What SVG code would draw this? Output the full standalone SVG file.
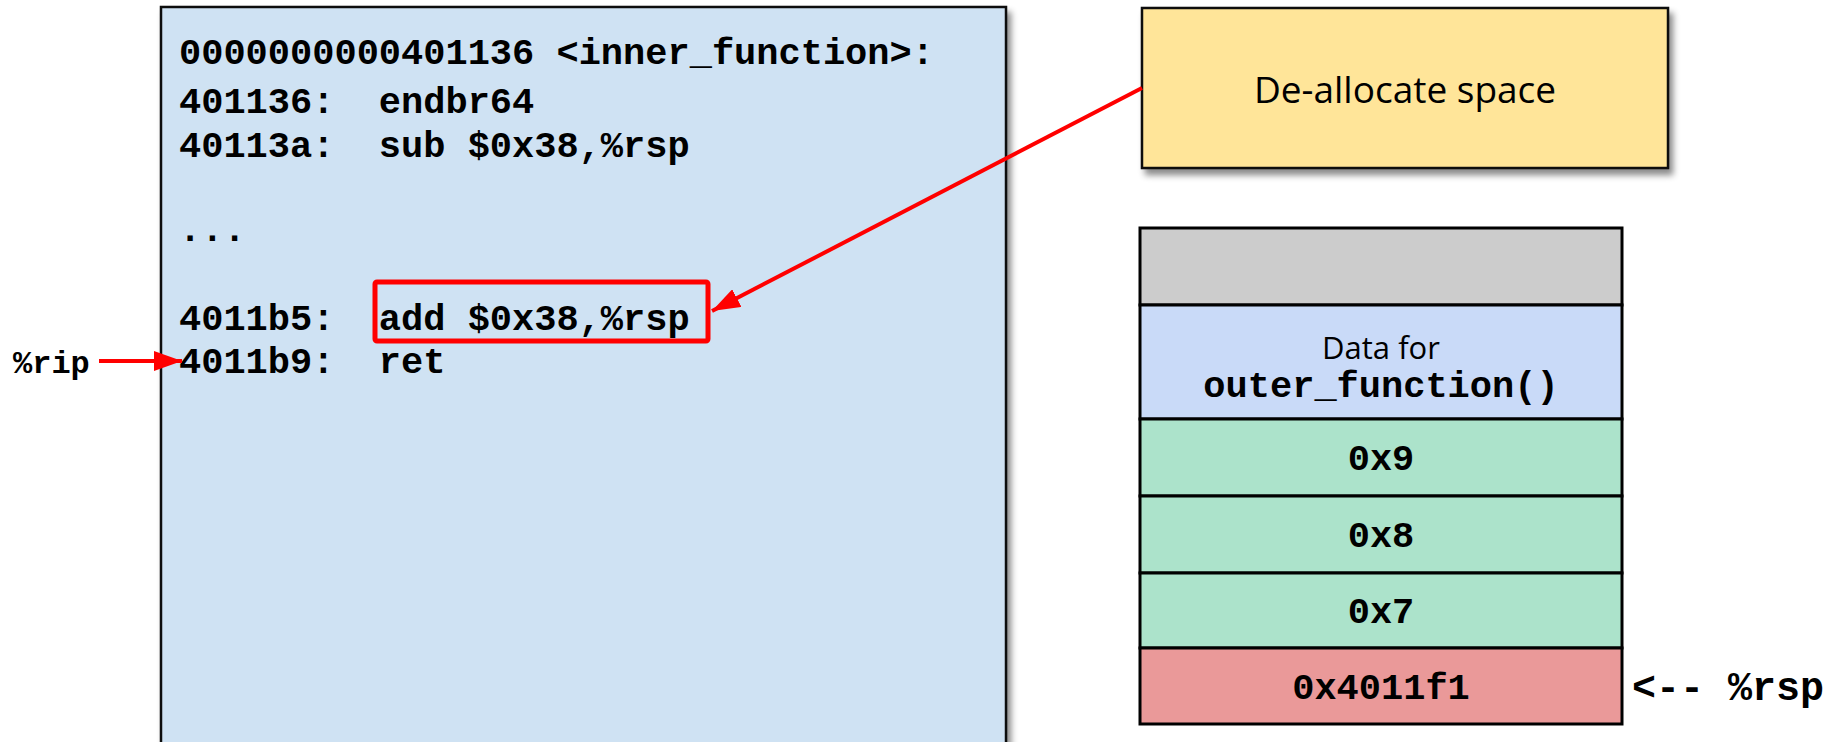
<svg xmlns="http://www.w3.org/2000/svg" width="1832" height="742" viewBox="0 0 1832 742">
<defs>
<filter id="sh" x="-10%" y="-10%" width="130%" height="140%">
<feDropShadow dx="4" dy="6" stdDeviation="3" flood-color="#000" flood-opacity="0.45"/>
</filter>
<marker id="ah" markerWidth="7" markerHeight="5" refX="7" refY="2.5" orient="auto" markerUnits="strokeWidth">
<path d="M0,0 L7,2.5 L0,5 Z" fill="#ff0000"/>
</marker>
<style>
.code{font-family:"Liberation Mono","DejaVu Sans Mono",monospace;font-weight:bold;font-size:37px;fill:#000;white-space:pre}
.sans{font-family:"Open Sans","Noto Sans",sans-serif;fill:#000}
.cell{stroke:#000;stroke-width:3}
.red{stroke:#ff0000;stroke-width:4;fill:none}
</style>
</defs>
<g id="code-box">
<rect x="161" y="7" width="845" height="760" fill="#cfe2f3" stroke="#111" stroke-width="2.5" filter="url(#sh)"/>
<text class="code" x="179" y="64" xml:space="preserve">0000000000401136 &lt;inner_function&gt;:</text>
<text class="code" x="179" y="113" xml:space="preserve">401136:  endbr64</text>
<text class="code" x="179" y="157" xml:space="preserve">40113a:  sub $0x38,%rsp</text>
<text class="code" x="179" y="241" xml:space="preserve">...</text>
<text class="code" x="179" y="330" xml:space="preserve">4011b5:  add $0x38,%rsp</text>
<text class="code" x="179" y="373" xml:space="preserve">4011b9:  ret</text>
</g>
<g id="highlight">
<rect x="375" y="282" width="333" height="59" rx="2" fill="none" stroke="#ff0000" stroke-width="5"/>
</g>
<g id="dealloc">
<rect x="1142" y="8" width="526" height="160" fill="#ffe599" stroke="#111" stroke-width="2.5" filter="url(#sh)"/>
<text class="sans" x="1405" y="103" style="font-size:37px" text-anchor="middle">De-allocate space</text>
</g>
<g id="stack">
<rect class="cell" x="1140" y="228" width="482" height="77" fill="#cccccc"/>
<rect class="cell" x="1140" y="305" width="482" height="114" fill="#c9daf8"/>
<rect class="cell" x="1140" y="419" width="482" height="77" fill="#ace3cb"/>
<rect class="cell" x="1140" y="496" width="482" height="77" fill="#ace3cb"/>
<rect class="cell" x="1140" y="573" width="482" height="75" fill="#ace3cb"/>
<rect class="cell" x="1140" y="648" width="482" height="76" fill="#ea9999"/>
<text class="sans" x="1381" y="359" style="font-size:31px" text-anchor="middle">Data for</text>
<text class="code" x="1381" y="397" text-anchor="middle">outer_function()</text>
<text class="code" x="1381" y="470" text-anchor="middle">0x9</text>
<text class="code" x="1381" y="547" text-anchor="middle">0x8</text>
<text class="code" x="1381" y="623" text-anchor="middle">0x7</text>
<text class="code" x="1381" y="699" text-anchor="middle">0x4011f1</text>
</g>
<g id="rsp-label">
<text class="code" x="1632" y="700" style="font-size:40px" xml:space="preserve">&lt;-- %rsp</text>
</g>
<g id="rip-label">
<text class="code" x="13" y="373" style="font-size:32px">%rip</text>
</g>
<g id="connectors">
<line class="red" x1="1142" y1="88" x2="712" y2="311" marker-end="url(#ah)"/>
<line class="red" x1="99" y1="361" x2="182" y2="361" marker-end="url(#ah)"/>
</g>
</svg>
